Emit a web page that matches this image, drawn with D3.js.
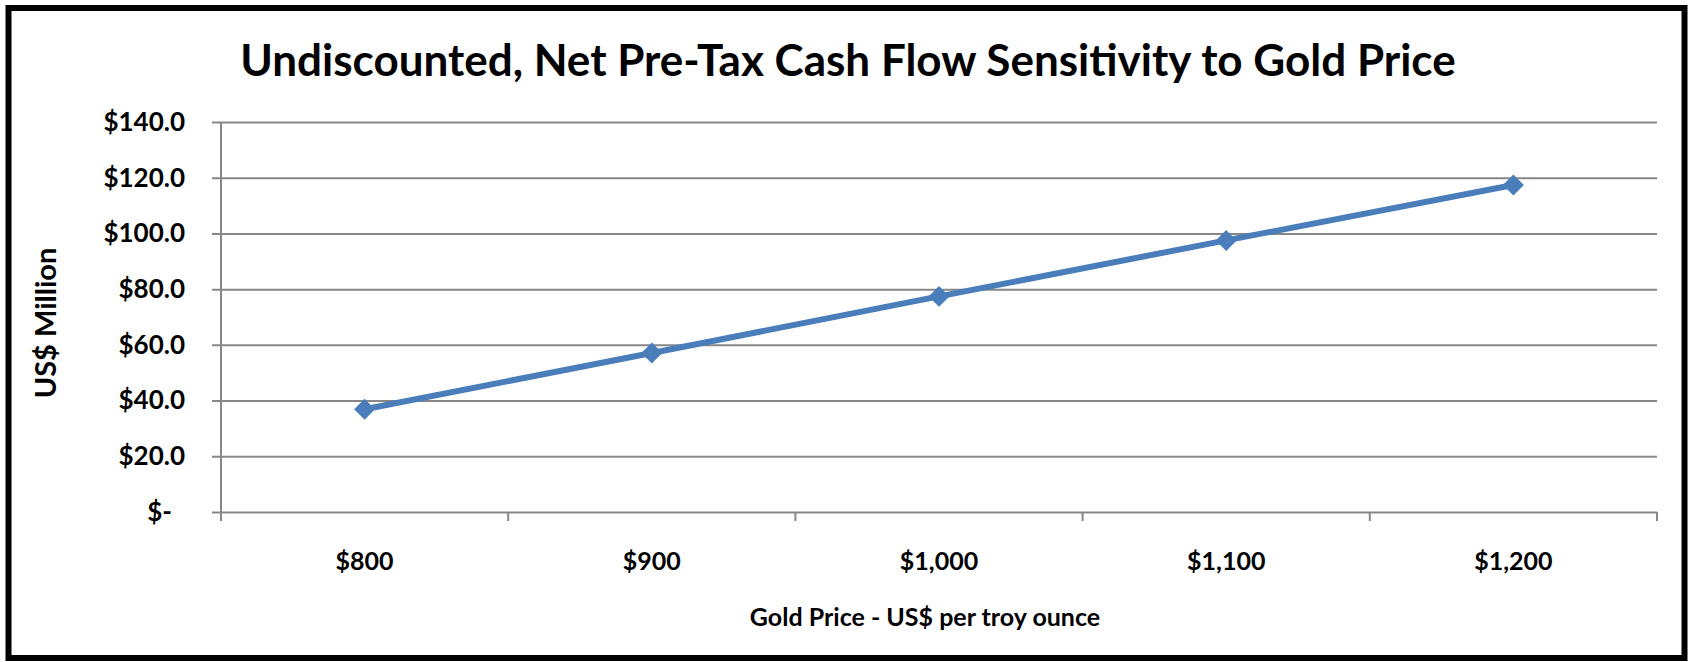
<!DOCTYPE html>
<html lang="en">
<head>
    <meta charset="utf-8">
    <script src="https://d3js.org/d3.v7.min.js"></script>
    <style type="text/css">
        body {
            margin: 0;
            background: white;
            overflow: hidden;
        }
        text {
            font-family: Lato, "Open Sans", sans-serif;
            font-weight: bold;
            fill: black;
        }
    </style>
</head>
<body>
<svg id="chart"></svg>
<script type="text/javascript">
    // chart data
    var goldPrices = ["$800", "$900", "$1,000", "$1,100", "$1,200"];
    var cashFlow = [36.9, 57.1, 77.4, 97.5, 117.4];
    var yTicks = [0, 20, 40, 60, 80, 100, 120, 140];

    var width = 1689;
    var height = 662;
    var margin = {top: 122, left: 221};
    var plotRight = 1657;
    var plotBottom = 512;

    var svg = d3.select("#chart")
        .attr("width", width)
        .attr("height", height);

    // outer chart border
    svg.append("rect")
        .attr("x", 8.5)
        .attr("y", 8)
        .attr("width", 1676)
        .attr("height", 650)
        .style("fill", "white")
        .style("stroke", "black")
        .style("stroke-width", 6);

    var x = d3.scaleBand()
        .domain(goldPrices)
        .range([margin.left, plotRight]);

    var y = d3.scaleLinear()
        .domain([0, 140])
        .range([plotBottom, margin.top]);

    // horizontal gridlines + y ticks
    var yAxis = svg.append("g")
        .attr("transform", "translate(" + margin.left + ",0)")
        .call(d3.axisLeft(y)
            .tickValues(yTicks)
            .tickSize(-(plotRight - margin.left))
            .tickSizeOuter(0)
            .tickPadding(36)
            .tickFormat(function(d) { return d === 0 ? "$-\u2002" : "$" + d.toFixed(1); }));

    yAxis.select(".domain").remove();
    yAxis.selectAll(".tick line")
        .attr("x1", -9)
        .style("stroke", "#878787")
        .style("stroke-width", 2);
    yAxis.selectAll(".tick text")
        .style("font-size", "26px");

    // vertical axis line
    svg.append("line")
        .attr("x1", margin.left).attr("x2", margin.left)
        .attr("y1", margin.top).attr("y2", plotBottom)
        .style("stroke", "#878787")
        .style("stroke-width", 2);

    // x axis: labels at band centres, ticks at band edges
    var xAxis = svg.append("g")
        .attr("transform", "translate(0," + plotBottom + ")")
        .call(d3.axisBottom(x).tickSize(0).tickPadding(40));

    xAxis.select(".domain").remove();
    xAxis.selectAll(".tick text")
        .style("font-size", "25px");

    var edges = goldPrices.map(function(d) { return x(d); }).concat([x.range()[1]]);
    svg.selectAll(".xedge")
        .data(edges)
        .join("line")
        .attr("class", "xedge")
        .attr("x1", function(d) { return d; })
        .attr("x2", function(d) { return d; })
        .attr("y1", plotBottom)
        .attr("y2", plotBottom + 9)
        .style("stroke", "#878787")
        .style("stroke-width", 2);

    // series line
    var line = d3.line()
        .x(function(d, i) { return x(goldPrices[i]) + x.bandwidth() / 2; })
        .y(function(d) { return y(d); });

    svg.append("path")
        .datum(cashFlow)
        .attr("d", line)
        .style("fill", "none")
        .style("stroke", "#4a7ebb")
        .style("stroke-width", 6);

    svg.selectAll(".marker")
        .data(cashFlow)
        .join("path")
        .attr("class", "marker")
        .attr("d", d3.symbol().type(d3.symbolSquare).size(220))
        .attr("transform", function(d, i) {
            return "translate(" + (x(goldPrices[i]) + x.bandwidth() / 2) + "," + y(d) + ") rotate(45)";
        })
        .style("fill", "#4a7ebb");

    // titles
    svg.append("text")
        .attr("x", 848)
        .attr("y", 76)
        .attr("text-anchor", "middle")
        .style("font-size", "44px")
        .text("Undiscounted, Net Pre-Tax Cash Flow Sensitivity to Gold Price");

    svg.append("text")
        .attr("x", 925)
        .attr("y", 626)
        .attr("text-anchor", "middle")
        .style("font-size", "25px")
        .text("Gold Price - US$ per troy ounce");

    svg.append("text")
        .attr("transform", "translate(56,323) rotate(-90)")
        .attr("text-anchor", "middle")
        .style("font-size", "29px")
        .text("US$ Million");
</script>
</body>
</html>
